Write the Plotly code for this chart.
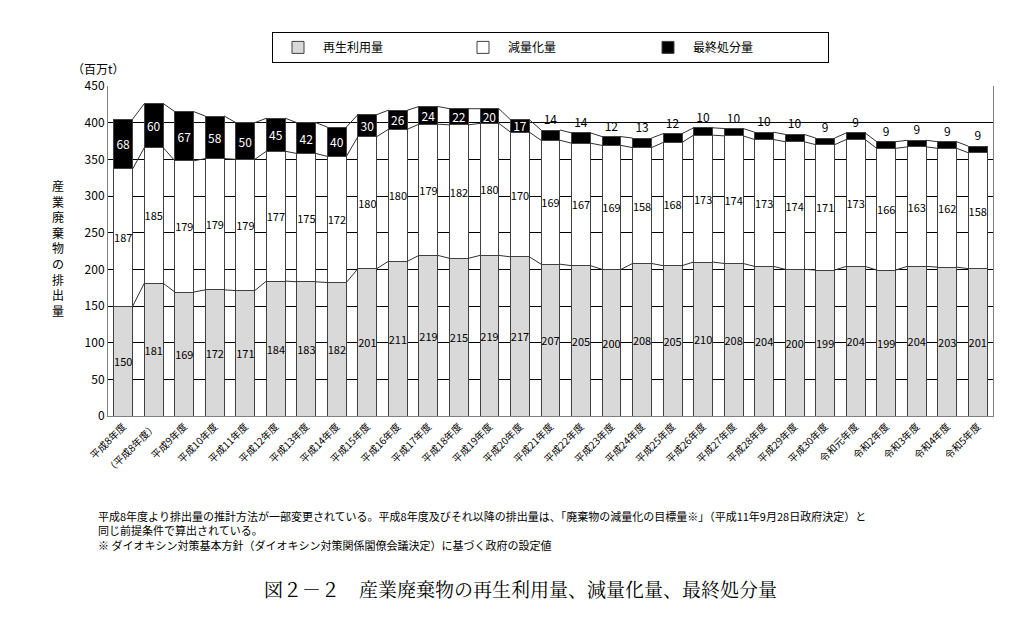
import plotly.graph_objects as go

years = ["平成8年度", "（平成8年度）", "平成9年度", "平成10年度", "平成11年度", "平成12年度",
         "平成13年度", "平成14年度", "平成15年度", "平成16年度", "平成17年度", "平成18年度",
         "平成19年度", "平成20年度", "平成21年度", "平成22年度", "平成23年度", "平成24年度",
         "平成25年度", "平成26年度", "平成27年度", "平成28年度", "平成29年度", "平成30年度",
         "令和元年度", "令和2年度", "令和3年度", "令和4年度", "令和5年度"]
recycle = [150, 181, 169, 172, 171, 184, 183, 182, 201, 211, 219, 215, 219, 217, 207,
           205, 200, 208, 205, 210, 208, 204, 200, 199, 204, 199, 204, 203, 201]
reduce_ = [187, 185, 179, 179, 179, 177, 175, 172, 180, 180, 179, 182, 180, 170, 169,
           167, 169, 158, 168, 173, 174, 173, 174, 171, 173, 166, 163, 162, 158]
final = [68, 60, 67, 58, 50, 45, 42, 40, 30, 26, 24, 22, 20, 17, 14,
         14, 12, 13, 12, 10, 10, 10, 10, 9, 9, 9, 9, 9, 9]

xs = list(range(len(years)))
w = 0.62
edge = dict(color="#404040", width=1)
font = "Noto Sans CJK JP"

fig = go.Figure()
fig.add_bar(x=xs, y=recycle, name="再生利用量", width=w, marker=dict(color="#d9d9d9", line=edge),
            text=recycle, textposition="inside", insidetextanchor="middle", constraintext="none",
            textfont=dict(color="black", size=11), textangle=0)
fig.add_bar(x=xs, y=reduce_, name="減量化量", width=w, marker=dict(color="white", line=edge),
            text=reduce_, textposition="inside", insidetextanchor="middle", constraintext="none",
            textfont=dict(color="black", size=11), textangle=0)
fig.add_bar(x=xs, y=final, name="最終処分量", width=w, marker=dict(color="black", line=edge),
            text=final, textposition=["inside" if v >= 15 else "outside" for v in final],
            insidetextanchor="middle", constraintext="none", cliponaxis=False,
            textfont=dict(color=["white" if v >= 15 else "black" for v in final], size=12),
            textangle=0)

# series connector lines
lvl1 = recycle
lvl2 = [a + b for a, b in zip(recycle, reduce_)]
lvl3 = [a + c for a, c in zip(lvl2, final)]
for lv in (lvl1, lvl2, lvl3):
    lx, ly = [], []
    for i in range(len(xs) - 1):
        lx += [xs[i] + w / 2, xs[i + 1] - w / 2, None]
        ly += [lv[i], lv[i + 1], None]
    fig.add_scatter(x=lx, y=ly, mode="lines", line=dict(color="#303030", width=1),
                    showlegend=False, hoverinfo="skip")

fig.update_layout(
    barmode="stack", width=1024, height=617, plot_bgcolor="white", paper_bgcolor="white",
    margin=dict(l=100, r=39, t=78, b=209, autoexpand=False), bargap=0.38,
    font=dict(family=font, size=11, color="black"),
    legend=dict(orientation="h", x=0.5, xanchor="center", y=1.07, yanchor="bottom",
                bordercolor="black", borderwidth=1, font=dict(size=12),
                itemwidth=40, traceorder="normal", entrywidth=130),
)
fig.update_xaxes(tickvals=xs, ticktext=years, tickangle=-45, range=[-0.5, len(xs) - 0.5],
                 showline=True, linecolor="#808080", tickfont=dict(size=10))
fig.update_yaxes(range=[0, 450], dtick=50, showgrid=True, gridcolor="black", gridwidth=1,
                 showline=True, linecolor="#808080", mirror=True, ticks="", tickfont=dict(size=12),
                 zeroline=False)

ann = [
    dict(text="（百万t）", x=62, y=60, xanchor="left", yanchor="middle", font=dict(size=12)),
    dict(text="<br>".join("産業廃棄物の排出量"), x=50, y=240, xanchor="center", yanchor="middle",
         font=dict(size=12)),
    dict(text="平成8年度より排出量の推計方法が一部変更されている。平成8年度及びそれ以降の排出量は、「廃棄物の減量化の目標量※」（平成11年9月28日政府決定）と"
              "<br>同じ前提条件で算出されている。<br>※ ダイオキシン対策基本方針（ダイオキシン対策関係閣僚会議決定）に基づく政府の設定値",
         x=88, y=522, xanchor="left", yanchor="middle", align="left", font=dict(size=11)),
    dict(text="図２－２　産業廃棄物の再生利用量、減量化量、最終処分量", x=512, y=580,
         xanchor="center", yanchor="middle", font=dict(size=19, family="Noto Serif CJK JP, " + font)),
]
for a in ann:
    a["x"] = (a["x"] - 100) / (1024 - 139)
    a["y"] = (617 - 209 - a["y"]) / (617 - 78 - 209)
    fig.add_annotation(xref="paper", yref="paper", showarrow=False, **a)

fig.write_html("out.html")
